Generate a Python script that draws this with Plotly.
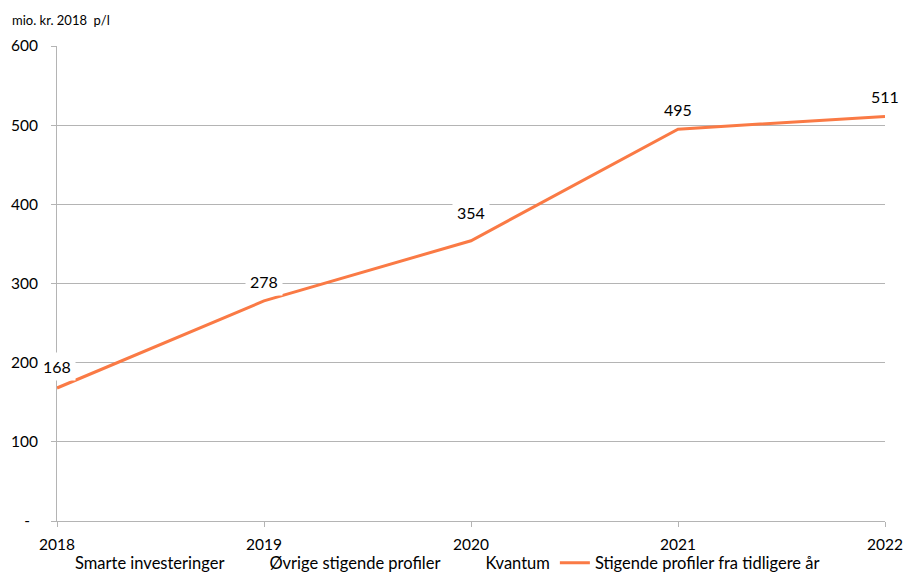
import plotly.graph_objects as go

years = ["2018", "2019", "2020", "2021", "2022"]
values = [168, 278, 354, 495, 511]
label_shift = [22, 19, 28, 20, 20]
legend_names = ["Smarte investeringer", "Øvrige stigende profiler", "Kvantum", "Stigende profiler fra tidligere år"]
y_tickvals = [0, 100, 200, 300, 400, 500, 600]
y_ticktext = ["-\u00a0\u00a0", "100", "200", "300", "400", "500", "600"]
unit_label = "mio. kr. 2018  p/l"

FONT = "Lato, Calibri, Carlito, sans-serif"
ORANGE = "#FA7A45"
GRID = "#B4B4B4"
FS = 16

W, H = 906, 572
L, R, T, B = 57, 906 - 885, 46, 572 - 521
PW, PH = W - L - R, H - T - B

def px_x(px):
    return (px - L) / PW

def px_y(py):
    return (H - B - py) / PH

fig = go.Figure()
for name in legend_names[:3]:
    fig.add_trace(go.Scatter(x=[None], y=[None], mode="lines", name=name,
                             line=dict(color="rgba(0,0,0,0)", width=3)))
fig.add_trace(go.Scatter(x=years, y=values, mode="lines", name=legend_names[3],
                         line=dict(color=ORANGE, width=3)))

for i, (v, s) in enumerate(zip(values, label_shift)):
    fig.add_annotation(x=i, y=v, xref="x", yref="y", text=str(v), showarrow=False,
                       yshift=s, bgcolor="white", borderpad=4,
                       font=dict(family=FONT, size=FS, color="#000"))

fig.add_annotation(xref="paper", yref="paper", x=px_x(10), y=px_y(20),
                   xanchor="left", yanchor="middle", text=unit_label, showarrow=False,
                   font=dict(family=FONT, size=13, color="#000"))

fig.update_layout(
    width=W, height=H,
    margin=dict(l=L, r=R, t=T, b=B, autoexpand=False),
    paper_bgcolor="white", plot_bgcolor="white",
    font=dict(family=FONT, size=FS, color="#000"),
    showlegend=True,
    legend=dict(orientation="h", xref="paper", yref="paper",
                x=px_x(35), y=px_y(563), xanchor="left", yanchor="middle",
                font=dict(family=FONT, size=16.5, color="#000"),
                bgcolor="rgba(0,0,0,0)", borderwidth=0, itemwidth=30,
                tracegroupgap=0),
    xaxis=dict(type="category", range=[0, 4], showgrid=False,
               showline=True, linecolor=GRID, linewidth=1,
               ticks="outside", ticklen=5, tickcolor=GRID,
               tickfont=dict(family=FONT, size=15.5, color="#000"),
               ticklabelstandoff=4, zeroline=False, automargin=False),
    yaxis=dict(range=[0, 600], tickvals=y_tickvals, ticktext=y_ticktext,
               showgrid=True, gridcolor=GRID, gridwidth=1,
               showline=True, linecolor=GRID, linewidth=1,
               ticks="outside", ticklen=5, tickcolor=GRID,
               tickfont=dict(family=FONT, size=15.5, color="#000"),
               ticklabelstandoff=10, zeroline=False, automargin=False),
)

fig.write_html("out.html", config={"displayModeBar": False},
               post_script="document.body.style.margin='0';document.body.style.overflow='hidden';")
